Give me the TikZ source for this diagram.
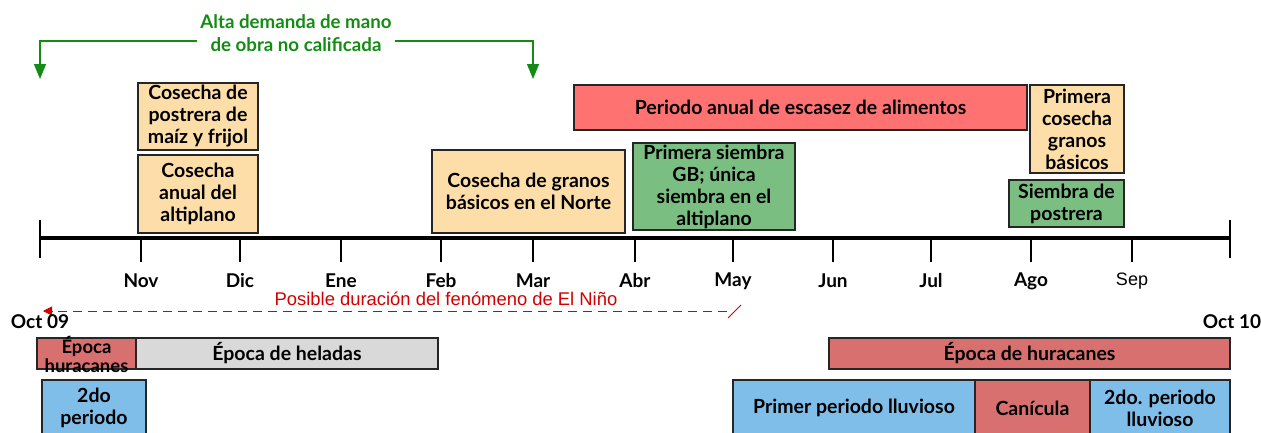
\documentclass[tikz,border=0pt]{standalone}
\usepackage{fontspec}
\setmainfont{Lato}
\newfontfamily\arialfont{Liberation Sans}
\usetikzlibrary{arrows.meta}

\definecolor{cosecha}{RGB}{253,222,168}
\definecolor{escasez}{RGB}{255,114,114}
\definecolor{siembra}{RGB}{122,190,130}
\definecolor{huracan}{RGB}{216,112,112}
\definecolor{helada}{RGB}{217,217,217}
\definecolor{lluvia}{RGB}{128,190,234}
\definecolor{verdeosc}{RGB}{20,140,20}
\definecolor{rojonino}{RGB}{210,0,0}

\tikzset{
  caja/.style={draw=black!85, line width=1.3pt, align=center, inner sep=1pt,
    font=\bfseries\fontsize{19.5}{22}\selectfont},
  mes/.style={font=\bfseries\fontsize{19}{20}\selectfont},
  flechaverde/.style={verdeosc, line width=1.2pt, -{Triangle[width=12pt,length=15pt]}},
}

\begin{document}
\begin{tikzpicture}[x=1pt, y=-1pt]
\clip (0,0) rectangle (1261,432);
\fill[white] (0,0) rectangle (1261,432);

% Eje de meses
\draw[line width=4pt] (40,238) -- (1230,238);
\draw[line width=1.2pt] (40,220) -- (40,258);
\draw[line width=1.2pt] (1230,220) -- (1230,258);
\foreach \x/\m in {141/Nov, 240/Dic, 341/Ene, 441/Feb, 533/Mar, 635/Abr, 733/May, 833/Jun, 931/Jul, 1031/Ago} {
  \draw[line width=1.2pt] (\x,238) -- (\x,262);
  \node[mes] (m\m) at (\x,281) {\m};
}
\draw[line width=1.2pt] (1132,238) -- (1132,262);
\node[font=\arialfont\fontsize{18}{20}\selectfont] (mSep) at (1132,281) {Sep};

% Demanda de mano de obra
\node[font=\bfseries\fontsize{18.7}{23}\selectfont, text=verdeosc, align=center, inner sep=3pt] (alta) at (296,33) {Alta demanda de mano\\de obra no calificada};
\coordinate (izq) at (40,79);
\coordinate (der) at (533,79);
\draw[flechaverde] (alta.west |- 0,41) -| (izq);
\draw[flechaverde] (alta.east |- 0,41) -| (der);

% Cosechas y siembras
\node[caja, fill=cosecha, minimum width=120pt, minimum height=67pt] (postrera) at (198,116.5) {Cosecha de\\postrera de\\maíz y frijol};
\node[caja, fill=cosecha, minimum width=120pt, minimum height=78pt] (anual) at (198,194) {Cosecha\\anual del\\altiplano};
\node[caja, fill=cosecha, minimum width=193pt, minimum height=83pt] (norte) at (528.5,191.5) {Cosecha de granos\\básicos en el Norte};
\node[caja, fill=escasez, minimum width=453pt, minimum height=45pt] (escasez) at (800.5,107.5) {Periodo anual de escasez de alimentos};
\node[caja, fill=siembra, minimum width=162pt, minimum height=87pt] (primsiembra) at (714,186.5) {Primera siembra\\GB; única\\siembra en el\\altiplano};
\node[caja, fill=cosecha, minimum width=94pt, minimum height=88pt] (primcosecha) at (1077,129) {Primera\\cosecha\\granos\\básicos};
\node[caja, fill=siembra, minimum width=115pt, minimum height=47pt] (sposterera) at (1066.5,203.5) {Siembra de\\postrera};

% El Nino
\node[font=\arialfont\fontsize{18.4}{20}\selectfont, text=rojonino] (nino) at (446,299) {Posible duración del fenómeno de El Niño};
\coordinate (ninoini) at (727,311);
\coordinate (ninofin) at (43,311);
\draw[rojonino, line width=1pt, dash pattern=on 9pt off 6pt, -{Triangle[width=9pt,length=9pt]}] (ninoini) -- (ninofin);
\draw[rojonino, line width=1pt] (728,318) -- (741,305);

\node[mes] (oct09) at (40,322) {Oct 09};
\node[mes] (oct10) at (1232,322) {Oct 10};

% Epocas
\node[caja, fill=huracan, minimum width=99pt, minimum height=31pt] (huracanA) at (86.5,353.5) {};
\node[font=\bfseries\fontsize{18.5}{19}\selectfont, align=center, inner sep=0pt] (huracanAtxt) at (86.5,354) {Época\\huracanes};
\node[caja, fill=helada, minimum width=302pt, minimum height=31pt] (heladas) at (287,353.5) {Época de heladas};
\node[caja, fill=huracan, minimum width=401pt, minimum height=31pt] (huracanB) at (1029.5,353.5) {Época de huracanes};

% Lluvias
\node[caja, fill=lluvia, minimum width=104pt, minimum height=55pt] (segundoA) at (94,407.5) {2do\\periodo};
\node[caja, fill=lluvia, minimum width=242pt, minimum height=56pt] (primero) at (854,408) {Primer periodo lluvioso};
\node[caja, fill=huracan, minimum width=115pt, minimum height=56pt] (canicula) at (1032.5,408) {Canícula};
\node[caja, fill=lluvia, minimum width=140pt, minimum height=56pt] (segundoB) at (1160,408) {2do. periodo\\lluvioso};
\end{tikzpicture}
\end{document}
